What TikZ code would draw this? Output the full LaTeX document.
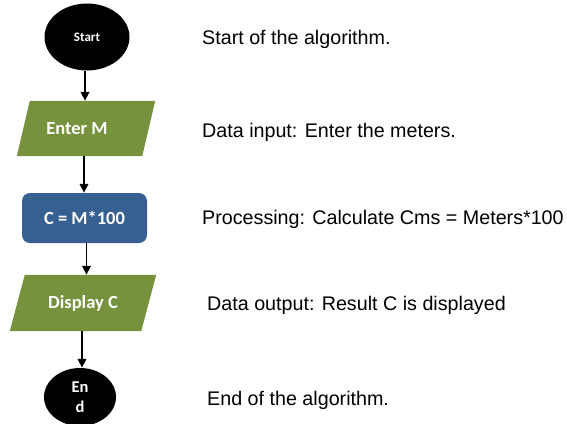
\documentclass[tikz,border=0pt]{standalone}
\usepackage{fontspec}
\setmainfont{Liberation Sans}
\newfontfamily\carlfont{Carlito}
\usetikzlibrary{shapes.geometric,arrows.meta,backgrounds}
\definecolor{olivegreen}{HTML}{76923C}
\definecolor{procblue}{HTML}{376092}
\tikzset{
  boxtext/.style={text=white,font=\carlfont\bfseries\fontsize{18.5}{20}\selectfont,inner sep=0pt},
  term/.style={ellipse,fill=black,text=white,inner sep=0pt,align=center},
  proc/.style={boxtext,rounded corners=8pt,fill=procblue,minimum width=125pt,minimum height=50pt},
  io/.style={boxtext,minimum height=55pt},
  arr/.style={line width=1.8pt,-{Triangle[length=9pt,width=8.5pt]}},
  note/.style={anchor=base west,inner sep=0pt,font=\fontsize{19.7}{22}\selectfont}
}
\begin{document}
\begin{tikzpicture}[x=1pt,y=-1pt]
\useasboundingbox (0,0) rectangle (567,423);
% nodes
\node[term,minimum width=85pt,minimum height=67pt,font=\carlfont\bfseries\fontsize{13}{14}\selectfont] (start) at (87,37) {Start};
\node[io,minimum width=125pt] (enter) at (86,128.5) {\hspace*{-18pt}Enter M};
\node[proc] (calc) at (84.5,218) {C = M*100};
\node[io,minimum width=131pt,minimum height=56pt] (disp) at (83,303) {Display C};
\node[term,minimum width=72pt,minimum height=58pt,font=\carlfont\bfseries\fontsize{16.5}{20}\selectfont] (end) at (80,397) {En\\d};
% parallelogram bodies
\begin{scope}[on background layer]
\fill[olivegreen] ([xshift=6.5pt]enter.north west) -- ([xshift=6.5pt]enter.north east)
  -- ([xshift=-6.5pt]enter.south east) -- ([xshift=-6.5pt]enter.south west) -- cycle;
\fill[olivegreen] ([xshift=7.5pt]disp.north west) -- ([xshift=7.5pt]disp.north east)
  -- ([xshift=-7.5pt]disp.south east) -- ([xshift=-7.5pt]disp.south west) -- cycle;
\end{scope}
% connectors
\draw[arr] ([xshift=-2pt]start.south) -- ([xshift=-2pt]start.south |- enter.north);
\draw[arr] ([xshift=-2pt]enter.south) -- ([xshift=-2pt]enter.south |- calc.north);
\draw[arr] ([xshift=2pt]calc.south) -- ([xshift=2pt]calc.south |- disp.north);
\draw[arr] ([xshift=-1pt]disp.south) -- ([xshift=-1pt]disp.south |- end.north);
% notes
\node[note] (n1) at (202,44) {Start of the algorithm.};
\node[note] (n2) at (202,137) {Data input: Enter the meters.};
\node[note] (n3) at (202,224) {Processing: Calculate Cms = Meters*100};
\node[note] (n4) at (207,310) {Data output: Result C is displayed};
\node[note] (n5) at (207,405) {End of the algorithm.};
\end{tikzpicture}
\end{document}
